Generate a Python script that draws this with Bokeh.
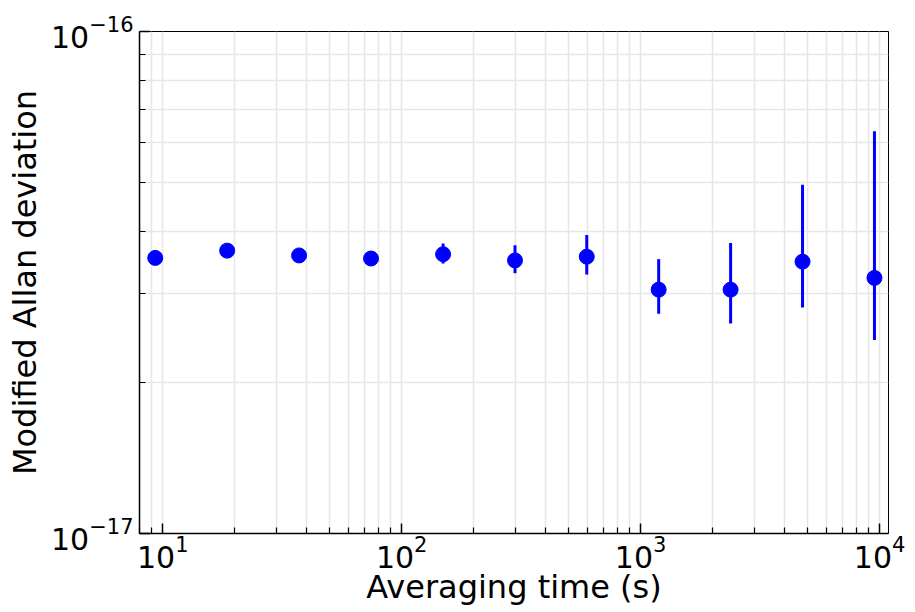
from bokeh.plotting import figure
from bokeh.models import FixedTicker, Range1d, ColumnDataSource
from bokeh.embed import file_html
from bokeh.resources import INLINE

# Data
tau = [9.3, 18.6, 37.2, 74.4, 149, 298, 595, 1190, 2380, 4760, 9520]
adev = [3.54e-17, 3.66e-17, 3.58e-17, 3.53e-17, 3.60e-17, 3.50e-17,
        3.56e-17, 3.06e-17, 3.06e-17, 3.48e-17, 3.23e-17]
err_hi = [3.57e-17, 3.69e-17, 3.61e-17, 3.65e-17, 3.78e-17, 3.75e-17,
          3.93e-17, 3.52e-17, 3.79e-17, 4.95e-17, 6.33e-17]
err_lo = [3.51e-17, 3.63e-17, 3.55e-17, 3.42e-17, 3.45e-17, 3.30e-17,
          3.28e-17, 2.74e-17, 2.62e-17, 2.82e-17, 2.43e-17]

x_major = [10, 100, 1000, 10000]
x_minor = [8, 9] + [m * d for d in (10, 100, 1000) for m in range(2, 10)]
y_major = [1e-17, 1e-16]
y_minor = [m * 1e-17 for m in range(2, 10)]

FONT = "DejaVu Sans"

p = figure(width=915, height=612, x_axis_type="log", y_axis_type="log",
           x_range=Range1d(7.99, 10900), y_range=Range1d(1e-17, 1e-16),
           output_backend="svg", toolbar_location=None,
           min_border_left=139, min_border_right=27,
           min_border_top=31, min_border_bottom=79)

p.xaxis.ticker = FixedTicker(ticks=x_major, minor_ticks=x_minor)
p.yaxis.ticker = FixedTicker(ticks=y_major, minor_ticks=y_minor)

for ax in (p.xaxis, p.yaxis):
    ax.major_label_text_font = FONT
    ax.major_label_text_font_size = "30px"
    ax.major_label_text_color = "black"
    ax.axis_label_text_font = FONT
    ax.axis_label_text_font_size = "32px"
    ax.axis_label_text_font_style = "normal"
    ax.axis_label_text_color = "black"
    ax.major_tick_in = 10
    ax.major_tick_out = 0
    ax.minor_tick_in = 6
    ax.minor_tick_out = 0
    ax.major_tick_line_color = "black"
    ax.minor_tick_line_color = "black"
    ax.major_tick_line_width = 1.5
    ax.minor_tick_line_width = 1.2
    ax.axis_line_color = "black"
    ax.axis_line_width = 1.5

p.yaxis.major_label_standoff = 6
p.yaxis.axis_label_standoff = 4
p.xaxis.major_label_standoff = 1
p.xaxis.axis_label_standoff = -3

p.xaxis.axis_label = "Averaging time (s)"
p.yaxis.axis_label = "Modified Allan deviation"

for g in (p.xgrid, p.ygrid):
    g.grid_line_color = "#e6e6e6"
    g.grid_line_width = 1.5
    g.minor_grid_line_color = "#e6e6e6"
    g.minor_grid_line_width = 1.5

p.outline_line_color = "black"
p.outline_line_width = 1
p.background_fill_color = "white"
p.border_fill_color = "white"

src = ColumnDataSource(dict(tau=tau, adev=adev, hi=err_hi, lo=err_lo))
p.segment(x0="tau", y0="lo", x1="tau", y1="hi", source=src,
          line_color="#0000ff", line_width=3)
p.scatter(x="tau", y="adev", source=src, size=15,
          fill_color="#0000ff", line_color="#0000ff")

open("out.html", "w").write(file_html(p, INLINE))
